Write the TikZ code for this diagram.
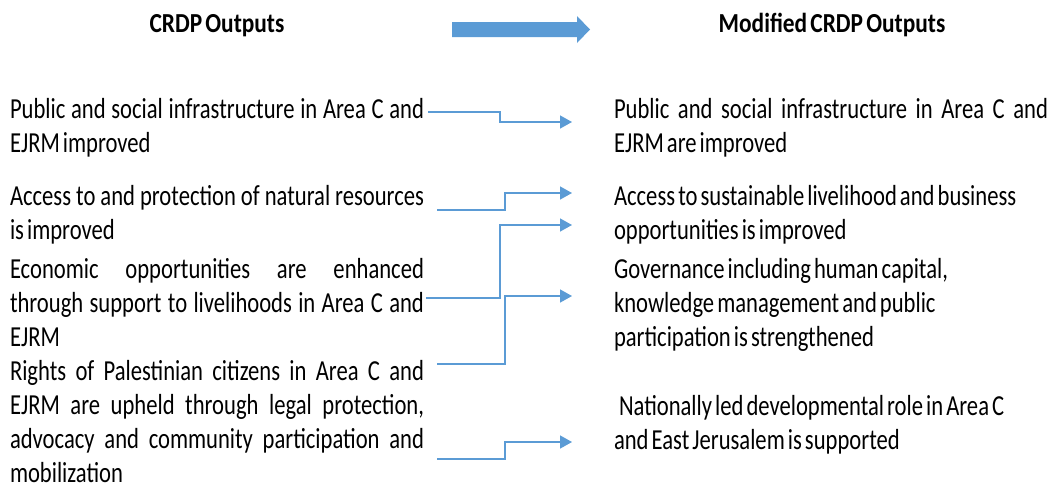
\documentclass[tikz,border=0pt]{standalone}
\usepackage{fontspec}
\setmainfont[FakeStretch=0.78,WordSpace=0.6]{Carlito}
\newfontfamily\headfont[FakeStretch=0.85,WordSpace=0.6]{Carlito}
\usetikzlibrary{arrows.meta}
\definecolor{linkblue}{HTML}{5B9BD5}
\tikzset{
  para/.style={anchor=base west, inner sep=0pt, outer sep=0pt, font=\fontsize{29}{34}\selectfont, align=justify},
  lpara/.style={para, text width=414pt},
  rpara/.style={para, text width=436pt},
  head/.style={anchor=base, inner sep=0pt, font=\headfont\bfseries\fontsize{27.5}{30}\selectfont},
  link/.style={draw=linkblue, line width=1.5pt, -{Triangle[length=12pt,width=13pt]}}
}
\begin{document}
\begin{tikzpicture}[x=1pt,y=-1pt]
\useasboundingbox (0,0) rectangle (1051,488);
% headers
\node[head] (hl) at (217,32) {CRDP Outputs};
\node[head] (hr) at (832,32) {Modified CRDP Outputs};
\fill[linkblue] (452,22) -- (577,22) -- (577,16) -- (590,29.5) -- (577,43) -- (577,37) -- (452,37) -- cycle;
% left column
\node[lpara] (l1) at (10,118) {Public and social infrastructure in Area C and\linebreak EJRM improved};
\node[lpara] (l2) at (10,205.5) {Access to and protection of natural resources\linebreak is improved};
\node[lpara] (l3) at (10,278.5) {Economic opportunities are enhanced\linebreak through support to livelihoods in Area C and\linebreak EJRM};
\node[lpara] (l4) at (10,380.5) {Rights of Palestinian citizens in Area C and\linebreak EJRM are upheld through legal protection,\linebreak advocacy and community participation and\linebreak mobilization};
% right column
\node[para, text width=434pt] (r1) at (614,118) {Public and social infrastructure in Area C and\linebreak EJRM are improved};
\node[rpara] (r2) at (614,205.5) {Access to sustainable livelihood and business\newline opportunities is improved};
\node[rpara] (r3) at (614,278.5) {Governance including human capital,\newline knowledge management and public\newline participation is strengthened};
\node[rpara] (r4) at (614,415.5) {\hspace*{5pt}Nationally led developmental role in Area C\newline and East Jerusalem is supported};
% connector ends
\coordinate (s1) at (428,112); \coordinate (e1) at (572,122);
\coordinate (s2) at (437,210); \coordinate (e2) at (572,193);
\coordinate (s3) at (426,298); \coordinate (e3) at (572,225);
\coordinate (s4) at (437,364); \coordinate (e4) at (572,296);
\coordinate (s5) at (437,459); \coordinate (e5) at (572,442);
\draw[link] (s1) -- (500,112) |- (e1);
\draw[link] (s2) -- (505,210) |- (e2);
\draw[link] (s3) -- (500,298) |- (e3);
\draw[link] (s4) -- (505,364) |- (e4);
\draw[link] (s5) -- (505,459) |- (e5);
\end{tikzpicture}
\end{document}
